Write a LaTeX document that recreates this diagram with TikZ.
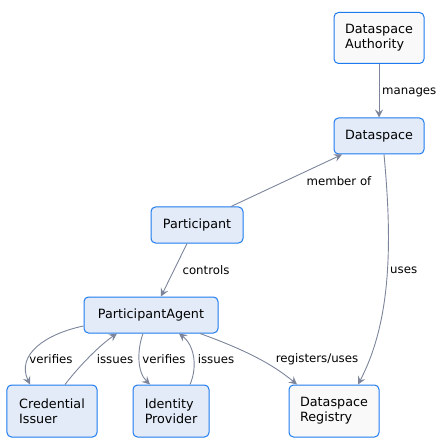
\documentclass[tikz,border=0pt]{standalone}
\usepackage{fontspec}
\setmainfont{DejaVu Sans}
\usetikzlibrary{arrows.meta,calc}
\definecolor{bordblue}{HTML}{1E7BEF}
\definecolor{lightfill}{HTML}{E3EBF8}
\definecolor{whitefill}{HTML}{F9F9F9}
\definecolor{edgecol}{HTML}{7D859B}
\tikzset{
  box/.style={draw=bordblue, line width=1bp, rounded corners=4.5bp, align=left, inner sep=0pt,
    font=\fontsize{12.8}{15}\selectfont},
  lbox/.style={box, fill=lightfill},
  wbox/.style={box, fill=whitefill},
  conn/.style={draw=edgecol, line width=0.9bp, -{Stealth[length=8bp,width=8bp,inset=3bp]}},
  elabel/.style={font=\fontsize{11.8}{14}\selectfont, inner sep=0pt}
}
\begin{document}
\begin{tikzpicture}[x=1bp,y=-1bp]
\useasboundingbox (0,0) rectangle (443,442);
\node[wbox, minimum width=90bp, minimum height=51bp] (auth) at (379,38) {Dataspace\\Authority};
\node[lbox, minimum width=90bp, minimum height=36bp] (ds) at (379,136) {Dataspace};
\node[lbox, minimum width=92bp, minimum height=36bp] (part) at (197,225) {Participant};
\node[lbox, minimum width=134bp, minimum height=36bp] (agent) at (151,315) {ParticipantAgent};
\node[lbox, minimum width=90bp, minimum height=52bp] (ci) at (52,411) {Credential\\Issuer};
\node[lbox, minimum width=76bp, minimum height=52bp] (ip) at (171,411) {Identity\\Provider};
\node[wbox, minimum width=90bp, minimum height=52bp] (reg) at (334,411) {Dataspace\\Registry};

% manages
\draw[conn] (auth.south) -- (ds.north);
\node[elabel, anchor=west] (lmanages) at (382,92) {manages};
% member of
\draw[conn] ($(part.north)+(34,0)$) -- ($(ds.south)+(-37,0)$);
\node[elabel] (lmember) at (339,181) {member of};
% uses
\draw[conn] ($(ds.south)+(5,0)$) .. controls (392,240) and (392,320) .. ($(reg.north)+(24,0)$);
\node[elabel, anchor=west] (luses) at (390,270) {uses};
% controls
\draw[conn] ($(part.south)+(-10,0)$) -- ($(agent.north)+(10,0)$);
\node[elabel] (lcontrols) at (206,270) {controls};
% verifies CI
\draw[conn] ($(agent.west)+(0,11)$) .. controls (45,334) and (16,355) .. ($(ci.north)+(-22,0)$);
\node[elabel] (lver1) at (51,359) {verifies};
% issues CI
\draw[conn] ($(ci.north)+(13,0)$) .. controls (80,365) and (100,345) .. ($(agent.south)+(-34,0)$);
\node[elabel] (liss1) at (115,359) {issues};
% verifies IP
\draw[conn] ($(agent.south)+(-8,0)$) .. controls (137,350) and (137,372) .. ($(ip.north)+(-21,0)$);
\node[elabel] (lver2) at (164,359) {verifies};
% issues IP
\draw[conn] ($(ip.north)+(19,0)$) .. controls (198,366) and (194,345) .. ($(agent.south)+(28,0)$);
\node[elabel] (liss2) at (216,359) {issues};
% registers/uses
\draw[conn] ($(agent.south)+(49,0)$) .. controls (240,348) and (270,362) .. ($(reg.north)+(-37,0)$);
\node[elabel] (lreg) at (317,359) {registers/uses};
\end{tikzpicture}
\end{document}
